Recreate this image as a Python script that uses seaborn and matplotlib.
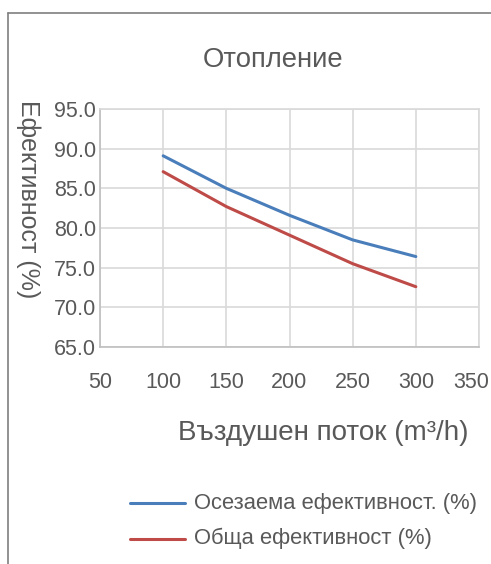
import matplotlib
matplotlib.use("Agg")
import matplotlib.pyplot as plt
import matplotlib.transforms as mtransforms
import seaborn as sns
import pandas as pd
from matplotlib.lines import Line2D

airflow = [100, 150, 200, 250, 300]
sensible_eff = [89.1, 85.0, 81.6, 78.5, 76.4]
total_eff = [87.1, 82.7, 79.1, 75.5, 72.6]
series_names = ["Осезаема ефективност. (%)", "Обща ефективност (%)"]
colors = ["#4a7ebb", "#be4b48"]
x_ticks = [50, 100, 150, 200, 250, 300, 350]
y_ticks = [65.0, 70.0, 75.0, 80.0, 85.0, 90.0, 95.0]

df = pd.DataFrame({
    "x": airflow * 2,
    "y": sensible_eff + total_eff,
    "series": [series_names[0]] * len(airflow) + [series_names[1]] * len(airflow),
})

sns.set_theme(style="white")
plt.rcParams["font.family"] = ["Liberation Sans", "DejaVu Sans"]
txt = "#595959"

W, H = 491, 564
fig = plt.figure(figsize=(W / 100, H / 100), dpi=100)
ax = fig.add_axes([100 / W, 1 - 347 / H, (479 - 100) / W, (347 - 109) / H])

sns.lineplot(data=df, x="x", y="y", hue="series", palette=colors, ax=ax,
             linewidth=2.2, legend=False, sort=True)

ax.set_xlim(50, 350)
ax.set_ylim(65, 95)
ax.set_xticks(x_ticks)
ax.set_yticks(y_ticks)
ax.set_xticklabels([str(v) for v in x_ticks])
ax.set_yticklabels([f"{v:.1f}" for v in y_ticks])
ax.tick_params(axis="both", length=0, labelsize=15.5, colors=txt)
ax.tick_params(axis="x", pad=18)
ax.tick_params(axis="y", pad=3)
ax.grid(True, color="#d9d9d9", linewidth=1.2)
ax.set_axisbelow(True)
for s in ax.spines.values():
    s.set_color("#d9d9d9")
    s.set_linewidth(1.2)
ax.spines["left"].set_color("#bfbfbf")
ax.spines["bottom"].set_color("#bfbfbf")
ax.set_xlabel("")
ax.set_ylabel("")

# keep the last x label inside the figure, like the reference
last = ax.get_xticklabels()[-1]
last.set_transform(last.get_transform() +
                   mtransforms.ScaledTranslation(-8 / 100, 0, fig.dpi_scale_trans))

fig.text(273 / W, 1 - 60 / H, "Отопление", ha="center", va="center",
         fontsize=19.8, color=txt)
fig.text(28 / W, 1 - 100 / H, "Ефективност (%)", ha="center", va="top",
         rotation=270, fontsize=18, color=txt)
fig.text(323 / W, 1 - 433 / H, "Въздушен поток (m³/h)", ha="center",
         va="center", fontsize=20, color=txt)

# legend
for i, (name, c) in enumerate(zip(series_names, colors)):
    yy = 1 - (503 + i * 35.6) / H
    fig.add_artist(Line2D([130 / W, 185 / W], [yy, yy], color=c, linewidth=2.2,
                          transform=fig.transFigure))
    fig.text(194 / W, yy, name, ha="left", va="center", fontsize=15.8, color=txt)

# chart border
fig.add_artist(Line2D([8 / W, 8 / W], [0, 1 - 13 / H], color="#7f7f7f",
                      linewidth=1.2, transform=fig.transFigure))
fig.add_artist(Line2D([8 / W, 1], [1 - 13 / H, 1 - 13 / H], color="#7f7f7f",
                      linewidth=1.2, transform=fig.transFigure))

fig.savefig("out.png", dpi=100, facecolor="white")
